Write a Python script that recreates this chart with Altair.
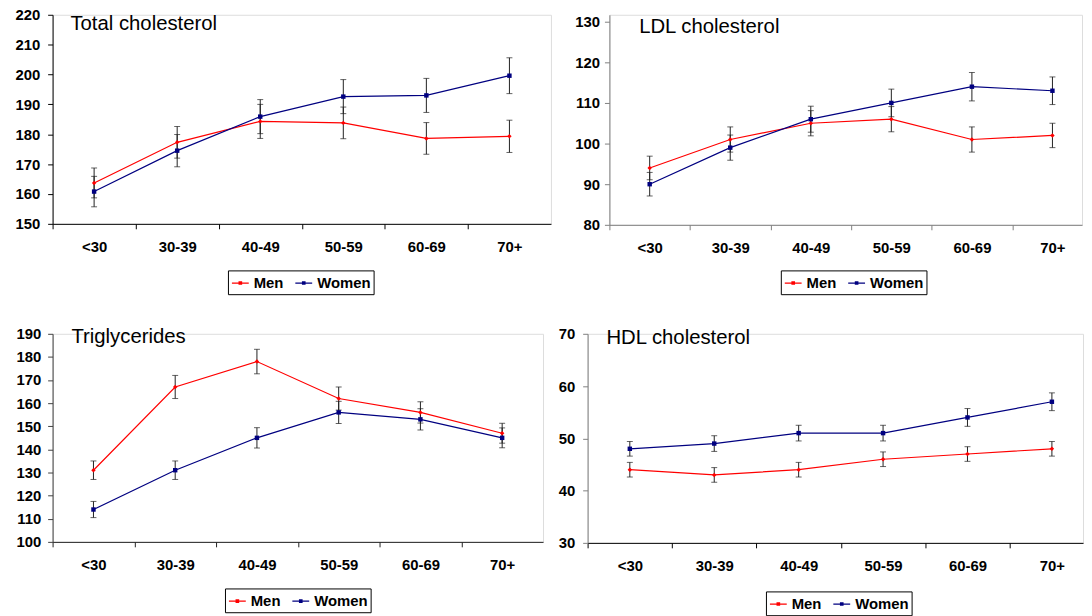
import json
import altair as alt
import pandas as pd

FONT = "Liberation Sans"

categories = ["<30", "30-39", "40-49", "50-59", "60-69", "70+"]
series_names = ["Men", "Women"]
series_colors = ["#FF0000", "#000080"]
series_shapes = ["diamond", "square"]

# Total cholesterol
tc_men = [163.7, 177.3, 184.3, 183.8, 178.6, 179.3]
tc_men_err = [5.0, 5.3, 5.7, 5.3, 5.3, 5.4]
tc_women = [160.8, 174.5, 185.9, 192.6, 193.0, 199.6]
tc_women_err = [5.1, 5.4, 5.7, 5.7, 5.7, 6.0]

# LDL cholesterol
ldl_men = [94, 101, 105, 106, 101, 102]
ldl_men_err = [2.9, 3.1, 3.1, 3.1, 3.1, 3.0]
ldl_women = [90, 99, 106, 110, 114, 113]
ldl_women_err = [2.9, 3.1, 3.2, 3.4, 3.5, 3.4]

# Triglycerides
tg_men = [131, 167, 178, 162, 156, 147]
tg_men_err = [4.0, 5.0, 5.3, 5.0, 4.6, 4.3]
tg_women = [114, 131, 145, 156, 153, 145]
tg_women_err = [3.5, 4.0, 4.4, 4.8, 4.6, 4.3]

# HDL cholesterol
hdl_men = [44, 43, 44, 46, 47, 48]
hdl_men_err = [1.4, 1.4, 1.4, 1.4, 1.4, 1.4]
hdl_women = [48, 49, 51, 51, 54, 57]
hdl_women_err = [1.4, 1.5, 1.5, 1.5, 1.7, 1.7]

LEGEND_PATH = "M-1,0H1M-0.14,-0.14H0.14V0.14H-0.14Z"


def panel(title, men, men_err, women, women_err, ymin, ymax, ytop, W, H, band,
          title_xy, legend_xy, axis_color_x, axis_color_y, ylabel_pad):
    rows = []
    for s, vals, errs in ((series_names[0], men, men_err), (series_names[1], women, women_err)):
        for i, (c, v, e) in enumerate(zip(categories, vals, errs)):
            rows.append(dict(series=s, idx=i, cat=c, value=v, lo=v - e, hi=v + e))
    df = pd.DataFrame(rows)

    xscale = alt.Scale(domain=[-0.5, -0.5 + W / band], nice=False, zero=False)
    xaxis = alt.Axis(
        values=list(range(len(categories))),
        labelExpr=f"{json.dumps(categories)}[datum.value]",
        tickOffset=-band / 2, labelOffset=band / 2,
        title=None, grid=False, labelFlush=False, labelOverlap=False,
        tickSize=5, labelPadding=11, domainColor=axis_color_x, tickColor=axis_color_x,
        domainWidth=1, tickWidth=1,
        labelFont=FONT, labelFontSize=15, labelFontWeight="bold", labelColor="black",
    )
    yscale = alt.Scale(domain=[ymin, ytop], nice=False, zero=False)
    yaxis = alt.Axis(
        values=list(range(ymin, ymax + 1, 10)), title=None, grid=False,
        tickSize=5, labelPadding=ylabel_pad, domainColor=axis_color_y, tickColor=axis_color_y,
        domainWidth=1, tickWidth=1,
        labelFont=FONT, labelFontSize=15, labelFontWeight="bold", labelColor="black",
    )
    X = alt.X("idx:Q", scale=xscale, axis=xaxis)
    cscale = alt.Scale(domain=series_names, range=series_colors)
    legend = alt.Legend(
        orient="none", legendX=legend_xy[0], legendY=legend_xy[1], direction="horizontal",
        title=None, symbolType=LEGEND_PATH, symbolSize=289, symbolStrokeWidth=1.3,
        strokeColor="black", padding=3, labelFont=FONT, labelFontSize=15,
        labelFontWeight="bold", labelColor="black", columnPadding=9, labelOffset=4,
    )

    base = alt.Chart(df)
    err = base.mark_rule(color="#202020", strokeWidth=1).encode(
        x=X, y=alt.Y("lo:Q", scale=yscale, axis=yaxis), y2="hi:Q")
    cap_lo = base.mark_tick(orient="horizontal", size=6, thickness=1, color="#202020").encode(
        x=X, y=alt.Y("lo:Q", scale=yscale, axis=yaxis))
    cap_hi = base.mark_tick(orient="horizontal", size=6, thickness=1, color="#202020").encode(
        x=X, y=alt.Y("hi:Q", scale=yscale, axis=yaxis))
    line = base.mark_line(strokeWidth=1.2).encode(
        x=X, y=alt.Y("value:Q", scale=yscale, axis=yaxis),
        color=alt.Color("series:N", scale=cscale, legend=legend),
        detail="series:N")
    layers = [err, cap_lo, cap_hi, line]
    for s, col, shp in zip(series_names, series_colors, series_shapes):
        layers.append(
            base.transform_filter(alt.datum.series == s).mark_point(
                filled=True, size=20, opacity=1, shape=shp, color=col
            ).encode(x=X, y=alt.Y("value:Q", scale=yscale, axis=yaxis))
        )
    ttl = alt.Chart(pd.DataFrame({"t": [title]})).mark_text(
        align="left", baseline="alphabetic", font=FONT, fontSize=20.5, color="black"
    ).encode(x=alt.value(title_xy[0]), y=alt.value(title_xy[1]), text="t:N")
    layers.append(ttl)

    return alt.layer(*layers).properties(width=W, height=H)


tl = panel("Total cholesterol", tc_men, tc_men_err, tc_women, tc_women_err, 150, 220, 220,
           503, 211, 503 / 6, (18, 15), (177, 258), "black", "black", 8)
tr = panel("LDL cholesterol", ldl_men, ldl_men_err, ldl_women, ldl_women_err, 80, 130, 131.7,
           477, 212, 81.3, (30, 18), (173, 258), "#808080", "#808080", 5)
bl = panel("Triglycerides", tg_men, tg_men_err, tg_women, tg_women_err, 100, 190, 190,
           495, 210, 82.5, (19, 9), (174, 257), "#202020", "#404040", 7)
br = panel("HDL cholesterol", hdl_men, hdl_men_err, hdl_women, hdl_women_err, 30, 70, 70,
           500, 211, 85.2, (19, 10), (180, 260), "black", "#808080", 8)

res = dict(x="independent", y="independent", color="independent")
row1 = alt.hconcat(tl, tr, spacing=22).resolve_scale(**res).resolve_legend(color="independent")
row2 = alt.hconcat(bl, br, spacing=13).resolve_scale(**res).resolve_legend(color="independent")

chart = alt.vconcat(row1, row2, spacing=31).resolve_scale(**res).resolve_legend(
    color="independent"
).properties(
    padding={"left": 6, "top": -4, "right": 0, "bottom": 0},
    background="white",
).configure_view(stroke=None).configure(font=FONT)

chart.save("out.html", embed_options={"renderer": "svg", "actions": False})
